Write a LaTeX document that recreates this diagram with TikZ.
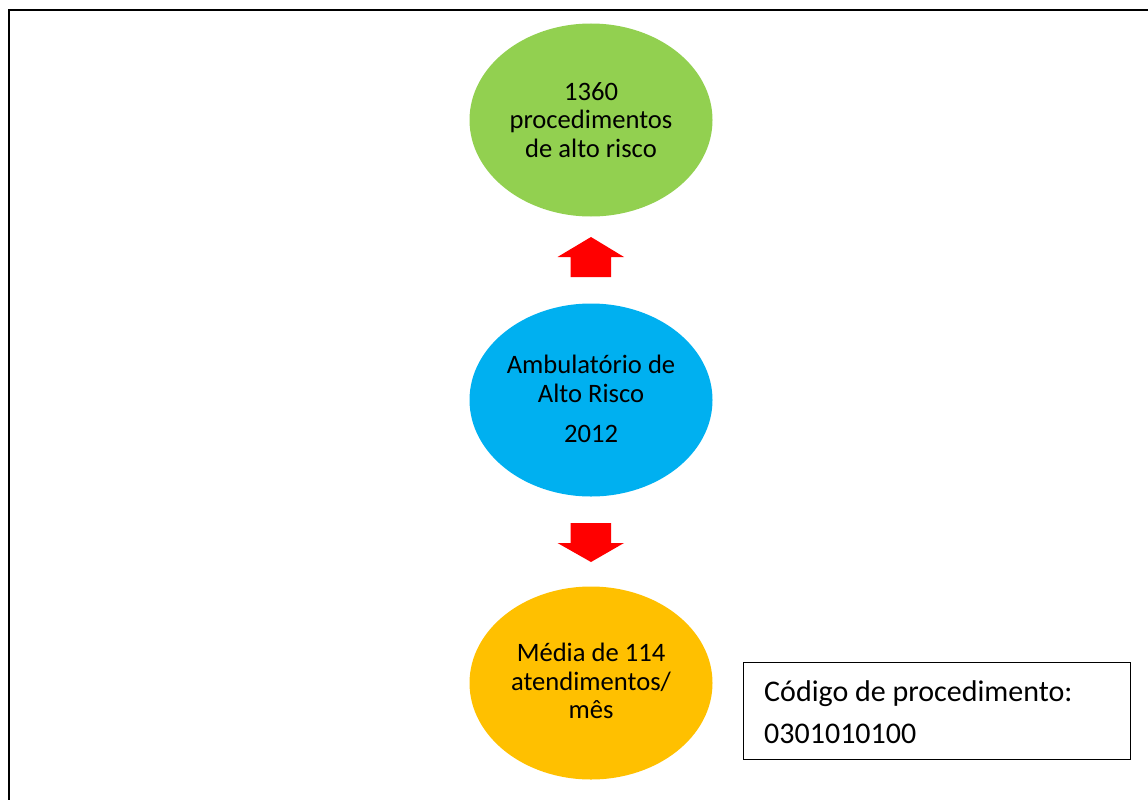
\documentclass[tikz,border=0pt]{standalone}
\usepackage{fontspec}
\setmainfont{Carlito}
\usetikzlibrary{shapes.geometric}
\definecolor{cgreen}{HTML}{92D050}
\definecolor{cblue}{HTML}{00B0F0}
\definecolor{corange}{HTML}{FFC000}
\definecolor{cred}{HTML}{FF0000}
\begin{document}
\begin{tikzpicture}[x=1pt,y=-1pt,
  blob/.style={ellipse, minimum width=243pt, minimum height=193pt, inner sep=0pt, draw=none},
  blobtext/.style={align=center, inner sep=0pt, font=\fontsize{26.6}{28.5}\selectfont},
  blockarrow/.style={fill=cred, draw=none},
  infobox/.style={draw=black, line width=1.3pt, minimum width=387pt, minimum height=97pt, inner sep=0pt, anchor=north west},
  infotext/.style={align=left, inner sep=0pt, anchor=west, font=\fontsize{30}{42}\selectfont}]
\useasboundingbox (0,0) rectangle (1148,800);
\draw[line width=1.5pt] (9,801) -- (9,10) -- (1149,10);
% ellipses
\node[blob, fill=cgreen] (top) at (591,120) {};
\node[blob, fill=cblue] (mid) at (591,400) {};
\node[blob, fill=corange] (bot) at (591,683) {};
\node[blobtext] (toptext) at (591,120) {1360\\procedimentos\\de alto risco};
\node[blobtext] (midtext) at (591,399) {Ambulatório de\\Alto Risco\\[12pt]2012};
\node[blobtext] (bottext) at (591,681) {Média de 114\\atendimentos/\\mês};
% block arrows
\coordinate (upbase) at (591,277);
\coordinate (uptip) at (591,237);
\fill[blockarrow] (upbase) ++(-20.5,0) -- ++(0,-20) -- ++(-13,0) -- (uptip) -- ++(33,20) -- ++(-13,0) -- ++(0,20) -- cycle;
\coordinate (downbase) at (591,523);
\coordinate (downtip) at (591,562);
\fill[blockarrow] (downbase) ++(-20.5,0) -- ++(0,20) -- ++(-13,0) -- (downtip) -- ++(33,-19) -- ++(-13,0) -- ++(0,-20) -- cycle;
% info box
\node[infobox] (box) at (743,662) {};
\node[infotext] (boxtext) at (764,712) {Código de procedimento:\\0301010100};
\end{tikzpicture}
\end{document}
